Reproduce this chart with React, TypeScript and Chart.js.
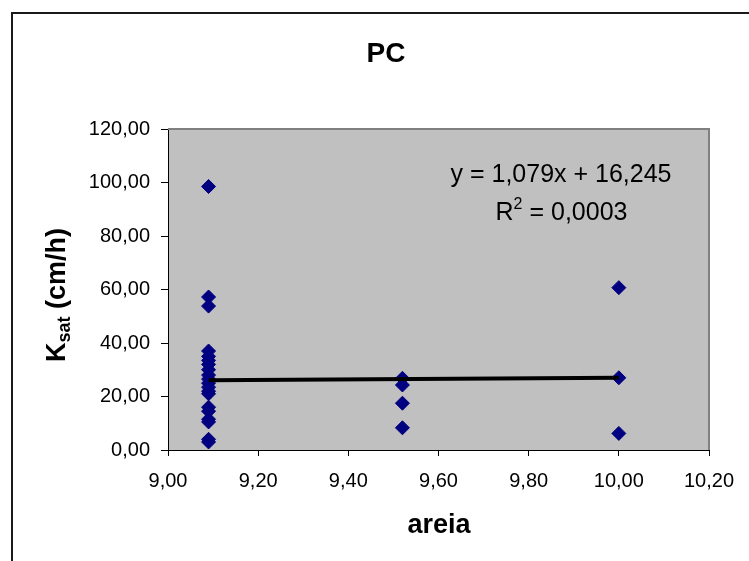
import React, { useEffect, useRef } from "react";
import { Chart, registerables } from "chart.js";

Chart.register(...registerables);

// ---- data ----
const groupX: number[] = [9.09, 9.52, 10.0];
const ksat909: number[] = [98.5, 57.2, 53.8, 37, 35, 33.5, 32, 30, 28, 26.5, 25, 23.5, 22, 21, 16, 14.5, 11.5, 10.5, 4, 3];
const ksat952: number[] = [26.8, 24.3, 17.5, 8.3];
const ksat1000: number[] = [60.7, 27.0, 6.2];
const trendSlope = 1.079;
const trendIntercept = 16.245;
const trendXRange: number[] = [9.09, 10.0];
const xTickMin = 9.0;
const xTickMax = 10.2;
const xTickStep = 0.2;
const yTickMin = 0;
const yTickMax = 120;
const yTickStep = 20;
const titleText = "PC";
const xTitle = "areia";
const yTitleMain = "K";
const yTitleSub = "sat";
const yTitleRest = " (cm/h)";
const eqLine1 = "y = 1,079x + 16,245";
const eqR = "R";
const eqSup = "2";
const eqRest = " = 0,0003";

const fmt = (v: number) => Number(v).toFixed(2).replace(".", ",");
const FONT = "'Liberation Sans', Arial, sans-serif";

export default function App() {
  const ref = useRef<HTMLCanvasElement | null>(null);
  useEffect(() => {
    document.body.style.margin = "0";
    const canvas = ref.current!;
    const points = [
      ...ksat909.map((y) => ({ x: groupX[0], y })),
      ...ksat952.map((y) => ({ x: groupX[1], y })),
      ...ksat1000.map((y) => ({ x: groupX[2], y })),
    ];
    const trend = trendXRange.map((x) => ({ x, y: trendSlope * x + trendIntercept }));

    const deco = {
      id: "deco",
      beforeDraw(chart: any) {
        const { ctx, chartArea: a, width, height } = chart;
        ctx.save();
        ctx.fillStyle = "#ffffff";
        ctx.fillRect(0, 0, width, height);
        ctx.strokeStyle = "#1a1a1a";
        ctx.lineWidth = 2;
        ctx.beginPath();
        ctx.moveTo(12, height + 5);
        ctx.lineTo(12, 13);
        ctx.lineTo(width + 5, 13);
        ctx.stroke();
        ctx.fillStyle = "#c0c0c0";
        ctx.fillRect(a.left, a.top, a.right - a.left, a.bottom - a.top);
        ctx.restore();
      },
      beforeDatasetsDraw(chart: any) {
        const { ctx, chartArea: a } = chart;
        ctx.save();
        ctx.strokeStyle = "#808080";
        ctx.lineWidth = 2;
        ctx.beginPath();
        ctx.moveTo(a.left, a.top);
        ctx.lineTo(a.right, a.top);
        ctx.lineTo(a.right, a.bottom);
        ctx.stroke();
        ctx.restore();
      },
      afterDraw(chart: any) {
        const { ctx } = chart;
        ctx.save();
        ctx.fillStyle = "#000";
        ctx.textAlign = "center";
        ctx.textBaseline = "alphabetic";
        // title
        ctx.font = `bold 28px ${FONT}`;
        ctx.fillText(titleText, 386, 62);
        // x title
        ctx.font = `bold 27px ${FONT}`;
        ctx.fillText(xTitle, 439, 533);
        // y title (rotated)
        ctx.save();
        ctx.translate(65, 295);
        ctx.rotate(-Math.PI / 2);
        const mainF = `bold 27px ${FONT}`;
        const subF = `bold 18px ${FONT}`;
        ctx.font = mainF;
        const wK = ctx.measureText(yTitleMain).width;
        const wRest = ctx.measureText(yTitleRest).width;
        ctx.font = subF;
        const wSub = ctx.measureText(yTitleSub).width;
        const total = wK + wSub + wRest;
        let x0 = -total / 2;
        ctx.textAlign = "left";
        ctx.font = mainF;
        ctx.fillText(yTitleMain, x0, 0);
        x0 += wK;
        ctx.font = subF;
        ctx.fillText(yTitleSub, x0, 5);
        x0 += wSub;
        ctx.font = mainF;
        ctx.fillText(yTitleRest, x0, 0);
        ctx.restore();
        // equation
        ctx.font = `25px ${FONT}`;
        ctx.textAlign = "center";
        ctx.fillText(eqLine1, 561, 182);
        ctx.textAlign = "left";
        const f2 = `25px ${FONT}`;
        const fs = `16px ${FONT}`;
        ctx.font = f2;
        const wR = ctx.measureText(eqR).width;
        const wE = ctx.measureText(eqRest).width;
        ctx.font = fs;
        const wS = ctx.measureText(eqSup).width;
        let ex = 561.5 - (wR + wS + wE) / 2;
        ctx.font = f2;
        ctx.fillText(eqR, ex, 220);
        ex += wR;
        ctx.font = fs;
        ctx.fillText(eqSup, ex, 209);
        ex += wS;
        ctx.font = f2;
        ctx.fillText(eqRest, ex, 220);
        ctx.restore();
      },
    };

    const chart = new Chart(canvas, {
      type: "scatter",
      data: {
        datasets: [
          {
            type: "line",
            data: trend,
            borderColor: "#000000",
            borderWidth: 4,
            pointRadius: 0,
            fill: false,
            order: 1,
          } as any,
          {
            data: points,
            pointStyle: "rectRot",
            pointRadius: 7,
            pointBackgroundColor: "#000080",
            pointBorderColor: "#000080",
            pointBorderWidth: 1,
            order: 2,
          },
        ],
      },
      plugins: [deco],
      options: {
        animation: false,
        responsive: false,
        devicePixelRatio: 1,
        layout: { padding: { top: 129, right: 40, left: 0, bottom: 0 } },
        plugins: { legend: { display: false }, tooltip: { enabled: false }, title: { display: false } },
        scales: {
          x: {
            type: "linear",
            min: xTickMin,
            max: xTickMax,
            afterFit: (s: any) => { s.height = 111; },
            afterBuildTicks: (s: any) => {
              const t = [];
              for (let i = 0; i <= Math.round((xTickMax - xTickMin) / xTickStep); i++) t.push({ value: xTickMin + i * xTickStep });
              s.ticks = t;
            },
            ticks: {
              callback: (v: any) => fmt(v),
              color: "#000",
              font: { family: FONT, size: 20 },
              padding: 13,
              maxRotation: 0,
              autoSkip: false,
            },
            grid: { drawOnChartArea: false, drawTicks: true, tickLength: 6, color: "#000" },
            border: { color: "#000", width: 1 },
          },
          y: {
            min: yTickMin,
            max: yTickMax,
            afterFit: (s: any) => { s.width = 168; },
            ticks: {
              stepSize: yTickStep,
              callback: (v: any) => fmt(v),
              color: "#000",
              font: { family: FONT, size: 20 },
              padding: 11,
            },
            grid: { drawOnChartArea: false, drawTicks: true, tickLength: 7, color: "#000" },
            border: { color: "#000", width: 1 },
          },
        },
      },
    });
    return () => chart.destroy();
  }, []);
  return <canvas ref={ref} width={749} height={561} style={{ display: "block", width: 749, height: 561 }} />;
}
